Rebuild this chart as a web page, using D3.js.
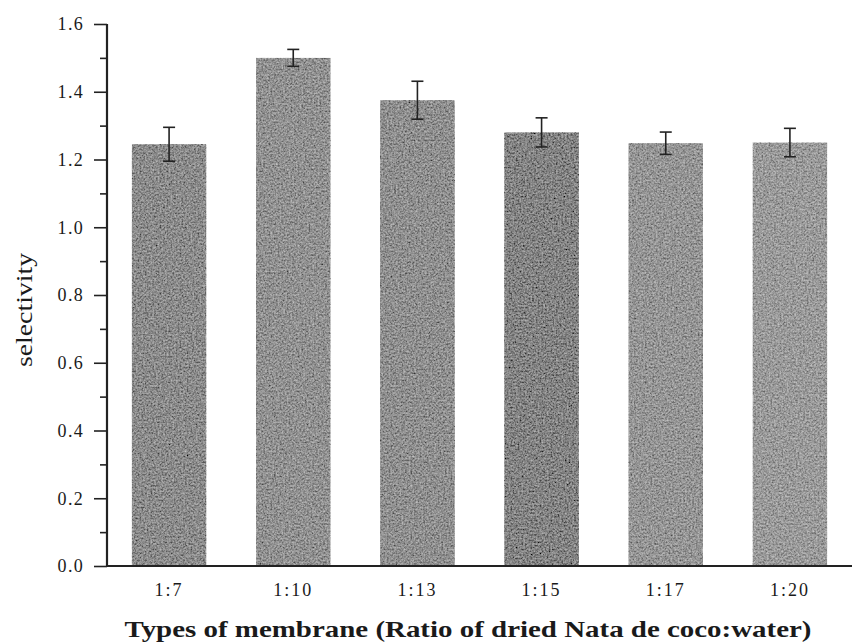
<!DOCTYPE html>
<html>
<head>
<meta charset="utf-8">
<script src="https://cdn.jsdelivr.net/npm/d3@7"></script>
<style>
  html, body { margin: 0; padding: 0; background: #fff; }
  svg { display: block; }
  text { font-family: "Liberation Serif", "Times New Roman", serif; fill: #1a1a1a; }
</style>
</head>
<body>
<svg id="chart" width="854" height="644"></svg>
<script>
// Membrane types (ratio of dried Nata de coco : water)
const categories = ["1:7", "1:10", "1:13", "1:15", "1:17", "1:20"];
// Mean selectivity per membrane
const selectivity = [1.245, 1.50, 1.375, 1.28, 1.248, 1.25];
// Error (± half-length of the error bar)
const errors = [0.05, 0.025, 0.056, 0.043, 0.033, 0.042];
// Y axis tick values and labels
const yTicks = [0, 0.2, 0.4, 0.6, 0.8, 1.0, 1.2, 1.4, 1.6];
const yMinorTicks = [0.1, 0.3, 0.5, 0.7, 0.9, 1.1, 1.3, 1.5];

// Per-bar gray tones
const barFills = ["#8b8b8b", "#919191", "#8f8f8f", "#838383", "#959595", "#9a9a9a"];

const svg = d3.select("#chart");
const plotLeft = 107, plotRight = 852, plotTop = 24, plotBottom = 566;

const x = d3.scaleBand()
  .domain(categories)
  .range([plotLeft, plotRight])
  .paddingInner(0.4)
  .paddingOuter(0.2);

const y = d3.scaleLinear().domain([0, 1.6]).range([plotBottom, plotTop]);

// Grain filter for the bar fills
const defs = svg.append("defs");
const f = defs.append("filter").attr("id", "grain")
  .attr("x", 0).attr("y", 0).attr("width", 1).attr("height", 1);
f.append("feTurbulence").attr("type", "fractalNoise").attr("baseFrequency", 0.55)
  .attr("numOctaves", 3).attr("seed", 11).attr("result", "noise");
f.append("feColorMatrix").attr("in", "noise").attr("type", "matrix")
  .attr("values", "1 0 0 0 0  1 0 0 0 0  1 0 0 0 0  0 0 0 0 1").attr("result", "gray");
f.append("feComposite").attr("in", "SourceGraphic").attr("in2", "gray")
  .attr("operator", "arithmetic").attr("k1", 0).attr("k2", 1).attr("k3", 0.6).attr("k4", -0.3)
  .attr("result", "mix");
f.append("feComposite").attr("in", "mix").attr("in2", "SourceAlpha").attr("operator", "in");

// Bars
svg.append("g").selectAll("rect")
  .data(categories)
  .join("rect")
  .attr("x", d => x(d))
  .attr("y", (d, i) => y(selectivity[i]))
  .attr("width", x.bandwidth())
  .attr("height", (d, i) => y(0) - y(selectivity[i]))
  .attr("fill", (d, i) => barFills[i])
  .attr("filter", "url(#grain)");

// Error bars
const eb = svg.append("g").attr("stroke", "#222").attr("stroke-width", 1.6);
categories.forEach((c, i) => {
  const cx = x(c) + x.bandwidth() / 2;
  const y1 = y(selectivity[i] + errors[i]);
  const y2 = y(selectivity[i] - errors[i]);
  eb.append("line").attr("x1", cx).attr("x2", cx).attr("y1", y1).attr("y2", y2);
  eb.append("line").attr("x1", cx - 6).attr("x2", cx + 6).attr("y1", y1).attr("y2", y1);
  eb.append("line").attr("x1", cx - 6).attr("x2", cx + 6).attr("y1", y2).attr("y2", y2);
});

// Y axis (major ticks with labels, minor ticks without)
const yAxis = svg.append("g").attr("transform", `translate(${plotLeft},0)`)
  .call(d3.axisLeft(y).tickValues(yTicks).tickFormat(d3.format(".1f")).tickSize(13).tickPadding(10));
svg.append("g").attr("transform", `translate(${plotLeft},0)`)
  .call(d3.axisLeft(y).tickValues(yMinorTicks).tickFormat("").tickSize(7))
  .select(".domain").remove();
svg.selectAll(".tick line").attr("stroke", "#222").attr("stroke-width", 1.6);
yAxis.select(".domain").attr("stroke", "#222").attr("stroke-width", 2.2).attr("d", `M0,${plotTop}V${plotBottom}`);
yAxis.selectAll(".tick text")
  .style("font-family", "'Liberation Serif', serif")
  .style("font-size", "18px")
  .style("letter-spacing", "1.3px")
  .attr("fill", "#222");

// X axis: baseline with category labels, no tick marks
const xAxis = svg.append("g").attr("transform", `translate(0,${plotBottom})`)
  .call(d3.axisBottom(x).tickSize(0).tickPadding(17));
xAxis.select(".domain").attr("stroke", "#222").attr("stroke-width", 2.2)
  .attr("d", `M${plotLeft},0H${plotRight}`);
xAxis.selectAll(".tick text")
  .style("font-family", "'Liberation Serif', serif")
  .style("font-size", "18px")
  .style("letter-spacing", "2px")
  .attr("fill", "#222");

// Axis titles
svg.append("text")
  .attr("x", 468).attr("y", 637)
  .attr("text-anchor", "middle")
  .attr("font-weight", "bold")
  .attr("font-size", 23)
  .attr("textLength", 687).attr("lengthAdjust", "spacingAndGlyphs")
  .text("Types of membrane (Ratio of dried Nata de coco:water)");

svg.append("text")
  .attr("transform", "translate(32,310) rotate(-90)")
  .attr("text-anchor", "middle")
  .attr("font-size", 24)
  .attr("textLength", 114).attr("lengthAdjust", "spacingAndGlyphs")
  .text("selectivity");
</script>
</body>
</html>
